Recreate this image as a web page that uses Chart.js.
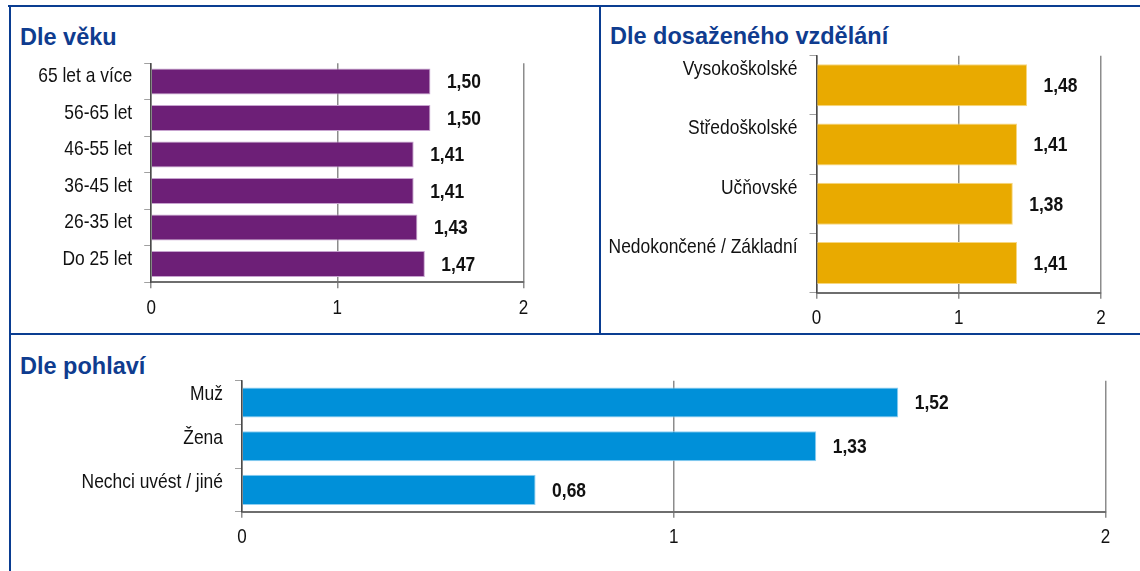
<!DOCTYPE html>
<html>
<head>
<meta charset="utf-8">
<script src="https://cdn.jsdelivr.net/npm/chart.js@4"></script>
<style>
  html, body { margin: 0; padding: 0; background: #fff; }
  body { width: 1140px; height: 571px; position: relative; overflow: hidden; }
  .line { position: absolute; background: #0a3d91; }
  .title { position: absolute; font: bold 23.5px "Liberation Sans", Arial, sans-serif; color: #0f3c8f; line-height: 1; white-space: nowrap; }
  canvas { position: absolute; }
</style>
</head>
<body>
<div class="line" style="left:8px;top:5px;width:1132px;height:2px"></div>
<div class="line" style="left:9px;top:5px;width:2px;height:566px"></div>
<div class="line" style="left:599px;top:5px;width:2px;height:329px"></div>
<div class="line" style="left:9px;top:333px;width:1131px;height:2px"></div>

<div class="title" style="left:20px;top:26px">Dle věku</div>
<div class="title" style="left:610px;top:25px">Dle dosaženého vzdělání</div>
<div class="title" style="left:20px;top:355px">Dle pohlaví</div>

<canvas id="vek" width="585" height="290" style="left:11px;top:40px"></canvas>
<canvas id="vzdelani" width="536" height="310" style="left:602px;top:30px"></canvas>
<canvas id="pohlavi" width="1127" height="210" style="left:11px;top:355px"></canvas>

<script>
const vekLabels = ['65 let a více', '56-65 let', '46-55 let', '36-45 let', '26-35 let', 'Do 25 let'];
const vekValues = [1.50, 1.50, 1.41, 1.41, 1.43, 1.47];

const vzdelaniLabels = ['Vysokoškolské', 'Středoškolské', 'Učňovské', 'Nedokončené / Základní'];
const vzdelaniValues = [1.48, 1.41, 1.38, 1.41];

const pohlaviLabels = ['Muž', 'Žena', 'Nechci uvést / jiné'];
const pohlaviValues = [1.52, 1.33, 0.68];

const xTicks = [0, 1, 2];

const font = '"Liberation Sans", Arial, sans-serif';
const squeeze = 0.83; // the original uses a narrow face

// text drawn squeezed horizontally, like Arial Narrow
function narrowText(ctx, text, x, y, align) {
    ctx.save();
    ctx.translate(x, y);
    ctx.scale(squeeze, 1);
    ctx.textAlign = align;
    ctx.textBaseline = 'middle';
    ctx.fillText(text, 0, 0);
    ctx.restore();
}

const labelsPlugin = {
    id: 'narrowLabels',
    afterDatasetsDraw(chart, args, opts) {
        const ctx = chart.ctx;
        const xs = chart.scales.x;
        const ys = chart.scales.y;
        const area = chart.chartArea;
        ctx.save();
        ctx.fillStyle = '#111';

        // category labels
        ctx.font = '21px ' + font;
        ys.ticks.forEach((t, i) => {
            narrowText(ctx, ys.getLabelForValue(t.value), area.left - 19, ys.getPixelForTick(i) + opts.labelOffset, 'right');
        });

        // value axis labels
        ctx.font = '20.5px ' + font;
        xs.ticks.forEach((t, i) => {
            narrowText(ctx, String(t.value), xs.getPixelForTick(i), area.bottom + 25.7, 'center');
        });

        // value labels after the bars
        ctx.font = 'bold 21px ' + font;
        const meta = chart.getDatasetMeta(0);
        meta.data.forEach((bar, i) => {
            const v = chart.data.datasets[0].data[i];
            narrowText(ctx, v.toFixed(2).replace('.', ','), bar.x + 16.5, bar.y + 1, 'left');
        });
        ctx.restore();
    }
};

function makeChart(id, labels, values, o) {
    return new Chart(document.getElementById(id), {
        type: 'bar',
        data: {
            labels: labels,
            datasets: [{
                data: values,
                backgroundColor: o.color,
                borderColor: o.edge,
                borderWidth: 1,
                categoryPercentage: 1,
                barPercentage: o.bar
            }]
        },
        options: {
            indexAxis: 'y',
            responsive: false,
            animation: false,
            devicePixelRatio: 1,
            layout: { padding: { left: 0, top: o.padTop, right: o.padRight, bottom: 0 } },
            plugins: {
                legend: { display: false },
                tooltip: { enabled: false },
                narrowLabels: { labelOffset: o.labelOffset }
            },
            scales: {
                x: {
                    min: 0,
                    max: 2,
                    afterBuildTicks: s => { s.ticks = xTicks.map(v => ({ value: v })); },
                    afterFit: s => { s.height = o.xH; },
                    grid: { color: '#8c8c8c', lineWidth: 1.5, tickLength: 6 },
                    border: { color: '#6e6e6e', width: 2 },
                    ticks: { display: false }
                },
                y: {
                    afterFit: s => { s.width = o.yW; },
                    grid: { drawOnChartArea: false, color: '#a0a0a0', tickLength: 7, offset: true },
                    border: { color: '#4a4a4a', width: 1.5 },
                    ticks: { display: false }
                }
            }
        },
        plugins: [labelsPlugin]
    });
}

makeChart('vek', vekLabels, vekValues, {
    color: '#6d1f77', edge: '#c7a3cf', bar: 0.71,
    padTop: 23.3, padRight: 72.5, xH: 47.7, yW: 140.2, labelOffset: -5
});
makeChart('vzdelani', vzdelaniLabels, vzdelaniValues, {
    color: '#e9aa00', edge: '#f7d780', bar: 0.71,
    padTop: 25.7, padRight: 37, xH: 47.3, yW: 214.5, labelOffset: -16
});
makeChart('pohlavi', pohlaviLabels, pohlaviValues, {
    color: '#0090d9', edge: '#8fd0f2', bar: 0.69,
    padTop: 25.7, padRight: 32.5, xH: 53.3, yW: 231, labelOffset: -8
});
</script>
</body>
</html>
